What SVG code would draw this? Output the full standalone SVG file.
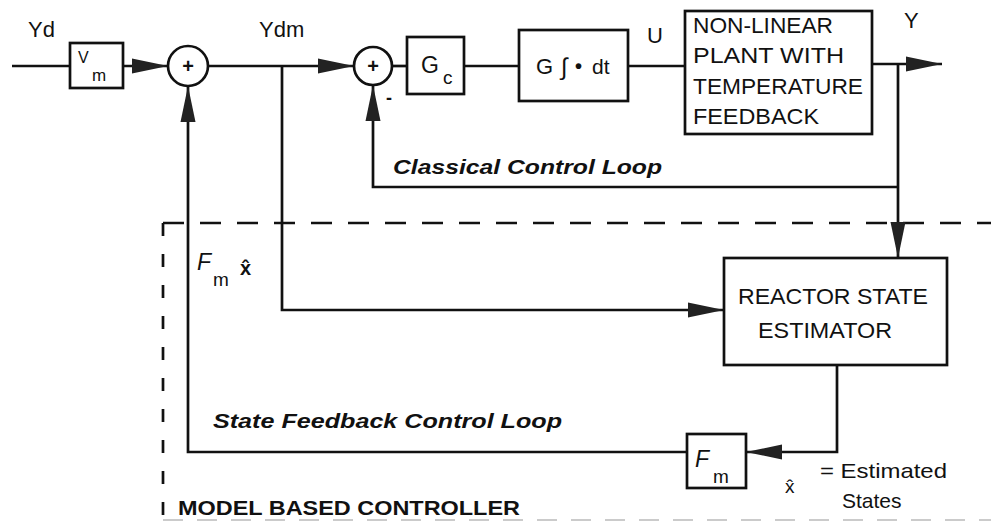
<svg xmlns="http://www.w3.org/2000/svg" width="991" height="522" viewBox="0 0 991 522">
<style>
.ln{fill:none;stroke:#111;stroke-width:2.7;stroke-linejoin:miter}
.bx{fill:#fff;stroke:#111;stroke-width:2.7}
.t{font-family:"Liberation Sans",Arial,sans-serif;fill:#111}
.lbl{font-size:21px}
.big{font-size:22px}
.bi{font-size:20px;font-weight:bold;font-style:italic}
.dash{fill:none;stroke:#111;stroke-width:2.7}
</style>
<defs>
<marker id="ah" markerUnits="userSpaceOnUse" viewBox="0 0 36 16" markerWidth="36" markerHeight="16" refX="36" refY="8" orient="auto">
<path d="M0,0.5 L36,8 L0,15.5 Z" fill="#222"/>
</marker>
</defs>
<rect width="991" height="522" fill="#fff"/>

<!-- model based controller dashed boundary -->
<g id="model-boundary">
<path class="dash" d="M163,223 H991" stroke-dasharray="21 16"/>
<path class="dash" d="M163,223 V522" stroke-dasharray="13 18"/>
<path d="M163,520 H991" fill="none" stroke="#bbb" stroke-width="1.5" stroke-dasharray="20 14"/>
<text class="t" x="178" y="515" font-size="20" font-weight="bold" textLength="342" lengthAdjust="spacingAndGlyphs">MODEL BASED CONTROLLER</text>
</g>

<g id="connectors">
<path class="ln" d="M12,66 H70"/>
<path class="ln" d="M123,66 H168" marker-end="url(#ah)"/>
<path class="ln" d="M208,66 H354" marker-end="url(#ah)"/>
<path class="ln" d="M392,66 H407"/>
<path class="ln" d="M464,66 H519"/>
<path class="ln" d="M628,66 H685"/>
<path class="ln" d="M872,64 H942" marker-end="url(#ah)"/>
<path class="ln" d="M898,64 V258" marker-end="url(#ah)"/>
<path class="ln" d="M898,187 H373 V85" marker-end="url(#ah)"/>
<path class="ln" d="M282,66 V310 H724" marker-end="url(#ah)"/>
<path class="ln" d="M837,365 V452 H746" marker-end="url(#ah)"/>
<path class="ln" d="M687,452 H188 V86" marker-end="url(#ah)"/>
</g>

<g id="vm">
<rect class="bx" x="70" y="43" width="53" height="45"/>
<text class="t" x="78" y="63" font-size="16">V</text>
<text class="t" x="92" y="81" font-size="17">m</text>
</g>

<g id="sum1">
<circle class="bx" cx="188" cy="66" r="20"/>
<text class="t" x="188" y="73" font-size="20" font-weight="bold" text-anchor="middle">+</text>
</g>

<g id="sum2">
<circle class="bx" cx="373" cy="66" r="19"/>
<text class="t" x="373" y="73" font-size="20" font-weight="bold" text-anchor="middle">+</text>
<text class="t" x="386" y="104" font-size="18" font-weight="bold">-</text>
</g>

<g id="gc">
<rect class="bx" x="407" y="37" width="57" height="57"/>
<text class="t" x="421" y="73" font-size="23">G</text>
<text class="t" x="443" y="84" font-size="19">c</text>
</g>

<g id="integrator">
<rect class="bx" x="519" y="30" width="109" height="71"/>
<text class="t" x="536" y="74" font-size="22">G</text>
<text class="t" x="561" y="75" font-size="24">∫</text>
<text class="t" x="575" y="73" font-size="20" font-weight="bold">•</text>
<text class="t" x="592" y="74" font-size="21">dt</text>
</g>

<g id="plant">
<rect class="bx" x="685" y="11" width="187" height="123"/>
<text class="t big" x="693" y="33" textLength="140" lengthAdjust="spacingAndGlyphs">NON-LINEAR</text>
<text class="t big" x="693" y="63" textLength="151" lengthAdjust="spacingAndGlyphs">PLANT  WITH</text>
<text class="t big" x="693" y="94" textLength="170" lengthAdjust="spacingAndGlyphs">TEMPERATURE</text>
<text class="t big" x="693" y="124" textLength="126" lengthAdjust="spacingAndGlyphs">FEEDBACK</text>
</g>

<g id="estimator">
<rect class="bx" x="724" y="258" width="223" height="107"/>
<text class="t big" x="738" y="304" textLength="190" lengthAdjust="spacingAndGlyphs">REACTOR STATE</text>
<text class="t big" x="758" y="338" textLength="134" lengthAdjust="spacingAndGlyphs">ESTIMATOR</text>
</g>

<g id="fm">
<rect class="bx" x="687" y="434" width="59" height="54"/>
<text class="t" x="695" y="467" font-size="23" font-style="italic">F</text>
<text class="t" x="713" y="483" font-size="19">m</text>
</g>

<g id="labels">
<text class="t big" x="28" y="37">Yd</text>
<text class="t big" x="259" y="37">Ydm</text>
<text class="t big" x="647" y="43">U</text>
<text class="t big" x="904" y="28">Y</text>
<text class="t bi" x="393" y="174" textLength="269" lengthAdjust="spacingAndGlyphs">Classical  Control  Loop</text>
<text class="t bi" x="213" y="428" textLength="349" lengthAdjust="spacingAndGlyphs">State  Feedback  Control  Loop</text>
<text class="t" x="197" y="270" font-size="23" font-style="italic">F</text>
<text class="t" x="213" y="286" font-size="19">m</text>
<text class="t" x="240" y="275" font-size="20" font-weight="bold">x̂</text>
<text class="t" x="785" y="493" font-size="19">x̂</text>
<text class="t" x="820" y="478" font-size="21" textLength="127" lengthAdjust="spacingAndGlyphs">= Estimated</text>
<text class="t" x="842" y="508" font-size="21">States</text>
</g>
</svg>
